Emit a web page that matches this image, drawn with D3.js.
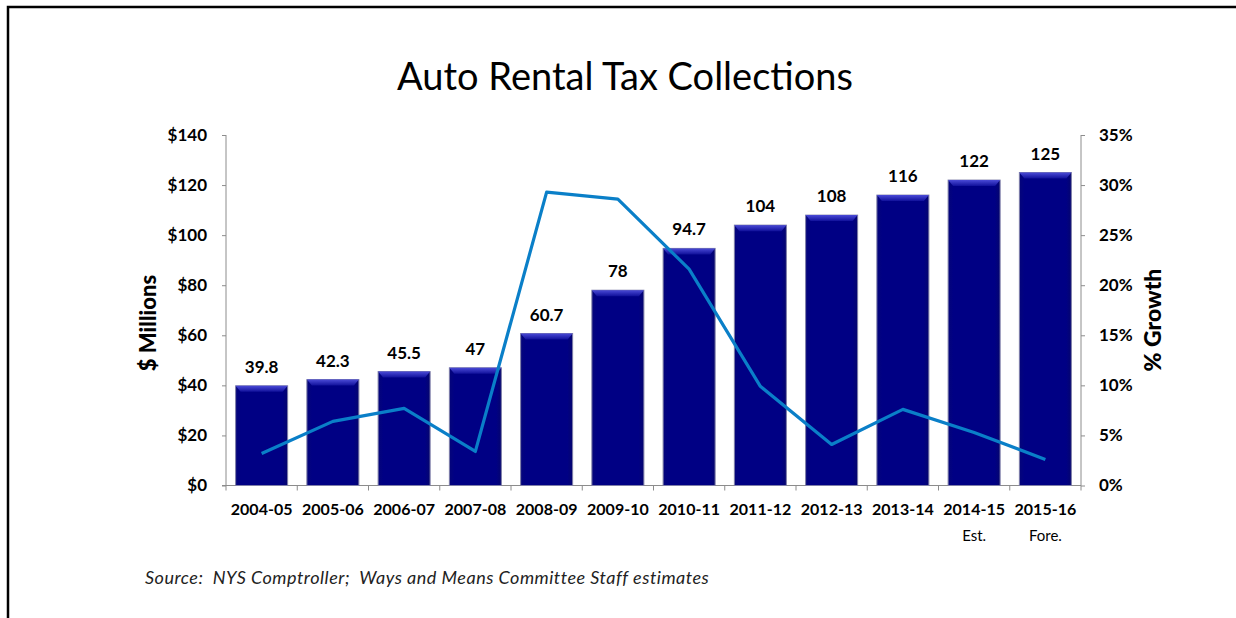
<!DOCTYPE html>
<meta charset="utf-8">
<style>
body { margin: 0; background: #fff; }
text { font-family: Lato, "Open Sans", sans-serif; fill: #000; }
.axis path, .axis line { stroke: #8c8c8c; }
.axis text { font-size: 16px; font-weight: bold; }
</style>
<svg width="1236" height="618"></svg>
<script src="https://d3js.org/d3.v7.min.js"></script>
<script>
var years = ["2004-05","2005-06","2006-07","2007-08","2008-09","2009-10","2010-11","2011-12","2012-13","2013-14","2014-15","2015-16"];
var collections = [39.8, 42.3, 45.5, 47, 60.7, 78, 94.7, 104, 108, 116, 122, 125];
var labels = ["39.8","42.3","45.5","47","60.7","78","94.7","104","108","116","122","125"];
var growth = [3.2, 6.4, 7.7, 3.4, 29.3, 28.6, 21.6, 9.9, 4.1, 7.6, 5.3, 2.6];
var notes = ["","","","","","","","","","","Est.","Fore."];
var leftTicks = [0, 20, 40, 60, 80, 100, 120, 140];
var rightTicks = [0, 5, 10, 15, 20, 25, 30, 35];

var svg = d3.select("svg");
var plotL = 226, plotR = 1081, plotT = 135, plotB = 485.5;

var x = d3.scaleBand().domain(years).range([plotL, plotR]).paddingInner(0.27).paddingOuter(0.135);
var y = d3.scaleLinear().domain([0, 140]).range([plotB, plotT]);
var y2 = d3.scaleLinear().domain([0, 35]).range([plotB, plotT]);

// frame
svg.append("path").attr("d", "M8,618 V7 H1236").attr("fill", "none").attr("stroke", "#000").attr("stroke-width", 2.5);

svg.append("text").attr("x", 625).attr("y", 90).attr("text-anchor", "middle")
    .style("font-size", "38px").text("Auto Rental Tax Collections");

var defs = svg.append("defs");
var g = defs.append("linearGradient").attr("id", "bar").attr("x1", 0).attr("x2", 1).attr("y1", 0).attr("y2", 0);
g.append("stop").attr("offset", "0").attr("stop-color", "#05057a");
g.append("stop").attr("offset", "0.1").attr("stop-color", "#000084");
g.append("stop").attr("offset", "0.9").attr("stop-color", "#000084");
g.append("stop").attr("offset", "1").attr("stop-color", "#05056e");
var gt = defs.append("linearGradient").attr("id", "bevel").attr("x1", 0).attr("x2", 0).attr("y1", 0).attr("y2", 1);
gt.append("stop").attr("offset", "0").attr("stop-color", "#4a4ad6");
gt.append("stop").attr("offset", "1").attr("stop-color", "#10109a");

// axes
svg.append("g").attr("class", "axis").attr("transform", "translate(" + plotL + ",0)")
    .call(d3.axisLeft(y).tickValues(leftTicks).tickSize(4).tickPadding(15).tickFormat(d => "$" + d))
    .call(a => a.select(".domain").attr("d", "M0," + plotT + "V" + plotB))
    .call(a => a.selectAll(".tick text").style("font-size", "17px"));
svg.append("g").attr("class", "axis").attr("transform", "translate(" + plotR + ",0)")
    .call(d3.axisRight(y2).tickValues(rightTicks).tickSize(4).tickPadding(14).tickFormat(d => d + "%"))
    .call(a => a.select(".domain").attr("d", "M0," + plotT + "V" + plotB))
    .call(a => a.selectAll(".tick text").style("font-size", "17px"));

var xa = svg.append("g").attr("class", "axis").attr("transform", "translate(0," + plotB + ")");
xa.append("line").attr("x1", plotL - 4).attr("x2", plotR).attr("stroke", "#8c8c8c");
xa.selectAll(".tk").data(d3.range(years.length + 1)).enter().append("line")
    .attr("x1", i => plotL + i * (plotR - plotL) / years.length)
    .attr("x2", i => plotL + i * (plotR - plotL) / years.length)
    .attr("y2", 5).attr("stroke", "#8c8c8c");
xa.selectAll(".lab").data(years).enter().append("text")
    .attr("x", d => x(d) + x.bandwidth() / 2).attr("y", 29).attr("text-anchor", "middle").text(d => d);
xa.selectAll(".note").data(notes).enter().append("text")
    .attr("x", (d, i) => x(years[i]) + x.bandwidth() / 2).attr("y", 55).attr("text-anchor", "middle")
    .style("font-weight", "normal").style("font-size", "15px").text(d => d);

// bars
var bars = svg.append("g").selectAll("g").data(collections).enter().append("g");
bars.append("rect")
    .attr("x", (d, i) => x(years[i])).attr("y", d => y(d))
    .attr("width", x.bandwidth()).attr("height", d => plotB - y(d))
    .attr("fill", "url(#bar)").attr("stroke", "#7f7fa8").attr("stroke-width", 1);
bars.append("path")
    .attr("d", (d, i) => {
      var x0 = x(years[i]), w = x.bandwidth(), t = y(d);
      return "M" + x0 + "," + t + "H" + (x0 + w) + "L" + (x0 + w - 5) + "," + (t + 6) + "H" + (x0 + 5) + "Z";
    })
    .attr("fill", "url(#bevel)");
bars.append("text")
    .attr("x", (d, i) => x(years[i]) + x.bandwidth() / 2).attr("y", d => y(d) - 13)
    .attr("text-anchor", "middle").style("font-size", "17px").style("font-weight", "bold")
    .text((d, i) => labels[i]);

// growth line
var line = d3.line().x((d, i) => x(years[i]) + x.bandwidth() / 2).y(d => y2(d));
svg.append("path").datum(growth).attr("d", line)
    .attr("fill", "none").attr("stroke", "#0a7fc8").attr("stroke-width", 3.2).attr("stroke-linejoin", "round");

// axis titles
svg.append("text").attr("transform", "translate(156,323) rotate(-90)").attr("text-anchor", "middle")
    .style("font-size", "22px").style("font-weight", "900").text("$ Millions");
svg.append("text").attr("transform", "translate(1161,320) rotate(-90)").attr("text-anchor", "middle")
    .style("font-size", "23px").style("font-weight", "900").text("% Growth");

svg.append("text").attr("x", 145).attr("y", 584).style("font-style", "italic").style("font-size", "18px")
    .style("white-space", "pre").style("letter-spacing", "0.5px")
    .style("fill", "#222").text("Source:  NYS Comptroller;  Ways and Means Committee Staff estimates");
</script>
